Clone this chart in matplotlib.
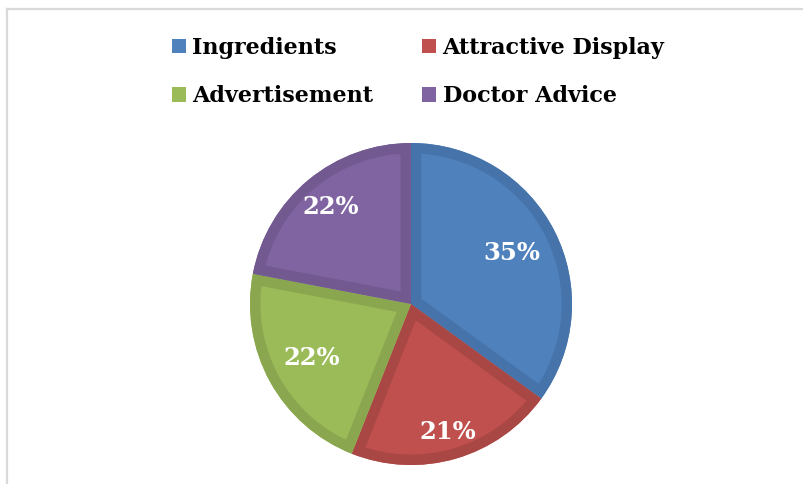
import matplotlib
matplotlib.use("Agg")
import matplotlib.pyplot as plt
from matplotlib.patches import Patch, Wedge
from matplotlib.lines import Line2D
import numpy as np

# Purchase-decision factors
categories = ["Ingredients", "Attractive Display", "Advertisement", "Doctor Advice"]
shares = [35, 21, 22, 22]
pct_labels = ["35%", "21%", "22%", "22%"]

fill_colors = ["#4f81bd", "#c0504d", "#9bbb59", "#8064a2"]
edge_colors = ["#4674aa", "#a94744", "#8aa74f", "#725a91"]
label_dist = [0.70, 0.83, 0.70, 0.78]

W, H = 804, 484
fig = plt.figure(figsize=(W / 100, H / 100), dpi=100)
fig.patch.set_facecolor("white")

# light frame on top and left
fig.add_artist(Line2D([7 / W, 1], [1 - 9 / H, 1 - 9 / H], color="#d9d9d9", lw=1.6,
                      transform=fig.transFigure))
fig.add_artist(Line2D([7 / W, 7 / W], [0, 1 - 9 / H], color="#d9d9d9", lw=1.6,
                      transform=fig.transFigure))

cx, cy, r = 411, 304, 161
ax = fig.add_axes([(cx - r) / W, (H - cy - r) / H, 2 * r / W, 2 * r / H])
wedges, _ = ax.pie(shares, colors=fill_colors, startangle=90, counterclock=False,
                   radius=1.0, wedgeprops=dict(linewidth=0))

# inner darker rim on each slice: an outline clipped to the slice itself
for w, ec in zip(wedges, edge_colors):
    rim = Wedge(w.center, w.r, w.theta1, w.theta2, facecolor="none",
                edgecolor=ec, linewidth=15, joinstyle="miter")
    ax.add_patch(rim)
    rim.set_clip_path(w)

serif_bold = dict(family="DejaVu Serif", weight="bold")
for w, txt, d in zip(wedges, pct_labels, label_dist):
    mid = np.deg2rad((w.theta1 + w.theta2) / 2)
    ax.text(d * np.cos(mid), d * np.sin(mid), txt, ha="center", va="center",
            color="white", fontsize=17.5, zorder=5, **serif_bold)

ax.set_xlim(-1, 1)
ax.set_ylim(-1, 1)
ax.set_aspect("equal")
ax.axis("off")

handles = [Patch(facecolor=c, edgecolor="none") for c in fill_colors]
order = [0, 2, 1, 3]
leg = fig.legend([handles[i] for i in order], [categories[i] for i in order],
                 ncol=2, loc="upper center", bbox_to_anchor=(0.52, 0.965),
                 frameon=False, handlelength=0.62, handleheight=0.62,
                 handletextpad=0.3, columnspacing=2.2, labelspacing=1.18,
                 prop=dict(family="DejaVu Serif", weight="bold", size=16))

fig.savefig("out.png", dpi=100, facecolor="white")
